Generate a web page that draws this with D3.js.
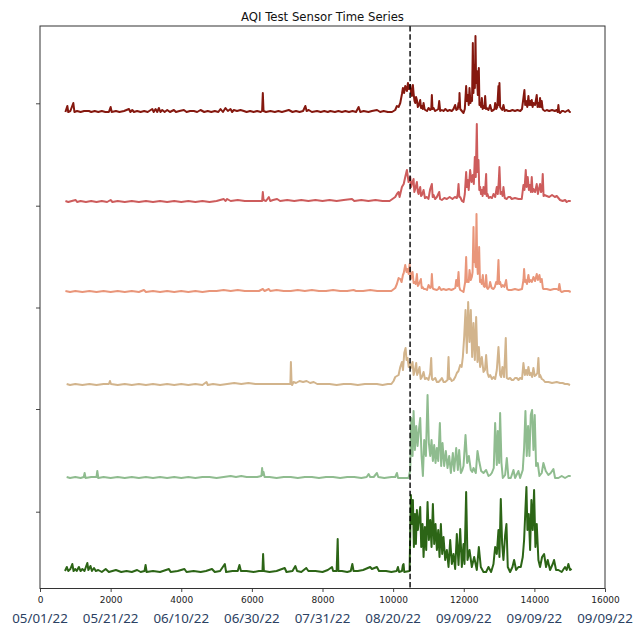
<!DOCTYPE html>
<html>
<head>
<meta charset="utf-8">
<script src="https://cdn.jsdelivr.net/npm/d3@7"></script>
<style>
  body { margin: 0; background: #fff; }
  .x-axis text { font-family: "DejaVu Sans", sans-serif; font-size: 9px; fill: #222; }
  .date-label { font-family: "Noto Sans", sans-serif; font-size: 13.3px; fill: #2b4162; }
  .chart-title { font-family: "DejaVu Sans", sans-serif; font-size: 11.7px; fill: #111; }
</style>
</head>
<body>
<svg id="chart"></svg>
<script>
// x axis ticks (sample index) and the date shown under each one
const xTicks = [0, 2000, 4000, 6000, 8000, 10000, 12000, 14000, 16000];
const dateLabels = ["05/01/22", "05/21/22", "06/10/22", "06/30/22", "07/31/22",
                    "08/20/22", "09/09/22", "09/09/22", "09/09/22"];
// y ticks carry no labels
const yTicks = [59.3, 162, 263.5, 365.3, 467.7];

// sensor sample index where the test starts (dashed line)
const cutoverIndex = 10480;

const seriesColors = ["#85180f", "#cd5c5c", "#e9967a", "#d2b48c", "#8fbc8f", "#2c6516"];
// vertical stacking offset of each sensor trace
const seriesOffsets = [458, 369, 279, 186, 93, -1];

// [sample index, AQI above baseline]
const sensor1 = [[720,1],[774,7],[800,1],[860,2],[944,10],[975,1],[1050,2],[1150,1],[1250,2],[1387,2],[1450,1],[1550,2],[1650,1],[1750,2],[1850,1],[1950,1],[2000,6],[2030,1],[2150,2],[2250,1],[2380,2],[2519,4],[2560,1],[2613,3],[2660,1],[2750,2],[2850,1],[2950,2],[3050,1],[3179,4],[3220,1],[3273,4],[3320,1],[3367,5],[3410,1],[3462,3],[3530,1],[3603,3],[3680,1],[3791,3],[3850,1],[3950,2],[4075,3],[4150,1],[4250,2],[4357,2],[4450,1],[4546,3],[4650,1],[4750,2],[4850,1],[4950,2],[5050,1],[5112,4],[5180,1],[5253,5],[5320,2],[5395,4],[5440,1],[5489,3],[5580,2],[5678,3],[5772,2],[5850,1],[5950,2],[6050,1],[6150,2],[6250,1],[6290,2],[6310,20],[6330,2],[6400,1],[6526,2],[6650,1],[6750,2],[6850,1],[6950,2],[7045,3],[7150,1],[7250,2],[7350,1],[7450,2],[7515,7],[7550,2],[7610,3],[7700,1],[7845,2],[7950,1],[8050,2],[8150,1],[8222,2],[8350,1],[8450,2],[8550,1],[8647,2],[8750,1],[8850,2],[8950,1],[9023,6],[9070,1],[9167,2],[9300,1],[9400,2],[9544,3],[9633,1],[9733,2],[9850,1],[9968,1],[10060,3],[10107,7],[10155,6],[10202,10],[10250,19],[10277,25],[10310,20],[10343,27],[10390,22],[10420,30],[10450,24],[10485,28],[10510,20],[10532,17],[10560,28],[10579,20],[10605,12],[10626,10],[10650,16],[10673,13],[10700,6],[10720,7],[10767,13],[10790,5],[10815,7],[10840,4],[10862,10],[10890,4],[10909,3],[10960,2],[11003,5],[11050,3],[11080,4],[11097,18],[11115,4],[11144,5],[11190,2],[11239,3],[11280,4],[11305,12],[11333,2],[11380,3],[11427,2],[11480,4],[11540,2],[11600,3],[11660,2],[11710,4],[11757,8],[11790,3],[11830,4],[11852,10],[11870,6],[11880,20],[11900,4],[11946,2],[11993,0],[12030,4],[12068,27],[12090,12],[12116,18],[12140,8],[12163,25],[12190,10],[12210,15],[12235,12],[12257,70],[12275,20],[12295,48],[12315,25],[12332,77],[12350,30],[12370,42],[12398,18],[12427,45],[12445,8],[12464,10],[12490,6],[12512,15],[12535,4],[12559,7],[12585,5],[12606,17],[12630,4],[12653,5],[12700,3],[12747,8],[12790,2],[12842,3],[12870,4],[12889,10],[12920,4],[12950,6],[12983,27],[12995,8],[13011,30],[13030,6],[13049,5],[13090,3],[13124,8],[13160,2],[13200,3],[13260,2],[13313,2],[13380,3],[13450,2],[13520,3],[13600,2],[13650,4],[13690,15],[13718,23],[13740,8],[13765,12],[13800,6],[13831,17],[13855,8],[13879,12],[13900,8],[13926,13],[13950,6],[13973,10],[14020,8],[14067,18],[14090,6],[14114,10],[14140,6],[14161,15],[14185,6],[14209,12],[14235,4],[14256,3],[14300,2],[14350,3],[14420,2],[14500,3],[14580,2],[14633,3],[14660,1],[14680,8],[14700,1],[14727,0],[14780,2],[14821,2],[14870,1],[14916,2],[14963,3],[15000,1],[15030,1]];

const sensor2 = [[720,1],[800,0],[900,1],[1010,2],[1050,0],[1150,1],[1300,0],[1450,1],[1600,0],[1750,1],[1900,0],[2000,2],[2050,0],[2200,1],[2400,0],[2600,1],[2800,0],[3000,1],[3200,0],[3400,1],[3600,0],[3800,1],[4000,0],[4200,1],[4400,0],[4600,1],[4800,0],[5000,1],[5100,2],[5205,3],[5250,1],[5300,3],[5400,1],[5600,2],[5800,1],[6000,1],[6200,1],[6290,1],[6310,10],[6330,2],[6400,1],[6480,5],[6520,1],[6600,2],[6714,3],[6800,1],[7000,2],[7200,1],[7400,2],[7600,1],[7800,2],[8000,1],[8200,2],[8400,1],[8600,2],[8835,3],[8900,1],[9100,2],[9300,1],[9500,2],[9700,1],[9900,1],[10060,5],[10107,8],[10155,10],[10183,5],[10249,15],[10300,18],[10343,25],[10390,32],[10437,20],[10485,25],[10510,15],[10532,18],[10579,23],[10600,10],[10626,13],[10673,20],[10700,10],[10720,8],[10767,15],[10790,6],[10815,7],[10862,12],[10900,4],[10956,5],[11000,3],[11050,13],[11097,18],[11120,5],[11144,7],[11190,3],[11239,5],[11305,10],[11330,3],[11380,2],[11450,4],[11522,3],[11600,5],[11680,3],[11750,5],[11804,4],[11830,8],[11852,18],[11875,5],[11899,5],[11950,1],[11993,0],[12030,8],[12068,30],[12090,15],[12116,22],[12140,12],[12181,32],[12220,20],[12257,27],[12285,18],[12314,45],[12340,25],[12370,78],[12390,30],[12417,42],[12440,12],[12464,15],[12490,8],[12512,12],[12535,6],[12559,15],[12600,8],[12634,28],[12650,6],[12672,8],[12710,4],[12747,5],[12800,4],[12842,8],[12890,5],[12936,15],[12965,8],[12990,20],[13011,35],[13040,8],[13078,10],[13100,6],[13124,15],[13160,4],[13219,3],[13260,5],[13313,5],[13360,3],[13450,4],[13550,3],[13643,3],[13690,17],[13720,12],[13756,32],[13780,15],[13812,25],[13845,12],[13879,17],[13900,10],[13926,25],[13950,10],[13973,13],[14020,10],[14067,18],[14100,8],[14161,18],[14190,10],[14215,12],[14237,28],[14260,6],[14284,7],[14350,6],[14420,5],[14500,7],[14580,5],[14633,6],[14680,4],[14727,2],[14800,1],[14870,2],[14916,0],[14963,1],[15030,1]];

const sensor3 = [[720,1],[850,0],[1000,1],[1200,0],[1400,1],[1600,0],[1800,1],[2000,0],[2200,1],[2400,0],[2600,1],[2800,0],[2943,2],[3000,0],[3200,1],[3400,0],[3600,1],[3800,0],[4000,1],[4200,0],[4400,1],[4600,0],[4800,1],[5000,1],[5200,2],[5400,1],[5600,2],[5800,1],[6000,1],[6200,1],[6310,3],[6360,1],[6480,3],[6520,1],[6700,2],[6900,1],[7100,1],[7300,2],[7500,1],[7700,2],[7900,1],[8100,1],[8300,2],[8500,1],[8700,1],[8880,2],[8950,1],[9150,1],[9350,2],[9550,1],[9750,1],[9950,1],[10060,4],[10107,8],[10155,14],[10202,13],[10240,10],[10277,17],[10300,19],[10343,27],[10380,20],[10409,23],[10440,18],[10466,28],[10485,20],[10503,13],[10551,20],[10580,9],[10607,10],[10640,8],[10673,18],[10700,6],[10720,7],[10786,13],[10810,4],[10833,5],[10870,3],[10909,3],[10960,2],[11003,7],[11050,4],[11080,6],[11097,18],[11120,4],[11144,3],[11239,2],[11280,3],[11305,5],[11360,2],[11427,3],[11500,2],[11580,3],[11650,2],[11710,3],[11760,4],[11786,12],[11820,6],[11852,20],[11875,5],[11899,2],[11950,1],[11993,0],[12040,10],[12068,35],[12090,10],[12116,12],[12140,10],[12163,22],[12200,12],[12229,15],[12250,20],[12276,65],[12295,30],[12314,35],[12340,25],[12361,78],[12380,30],[12398,18],[12420,20],[12436,45],[12460,10],[12483,12],[12510,8],[12540,17],[12565,6],[12587,5],[12610,6],[12634,17],[12660,4],[12681,3],[12720,5],[12747,10],[12790,4],[12842,3],[12880,5],[12917,10],[12950,8],[12983,32],[13005,8],[13030,10],[13070,5],[13106,7],[13150,5],[13200,12],[13230,3],[13266,2],[13350,2],[13450,3],[13550,2],[13650,3],[13690,12],[13709,23],[13735,10],[13756,12],[13790,8],[13831,17],[13860,10],[13898,12],[13930,10],[13973,15],[14020,11],[14067,18],[14100,12],[14143,17],[14175,10],[14209,13],[14240,4],[14256,3],[14350,3],[14450,2],[14550,3],[14633,3],[14680,2],[14708,8],[14740,1],[14774,0],[14850,1],[14916,1],[14970,1],[15029,0]];

const sensor4 = [[755,1],[850,0],[1000,1],[1200,0],[1400,1],[1600,0],[1800,1],[1950,1],[1981,4],[2010,1],[2200,0],[2400,1],[2600,0],[2800,1],[3000,0],[3200,1],[3400,0],[3600,1],[3800,0],[4000,1],[4200,0],[4400,1],[4600,0],[4715,3],[4750,0],[4900,1],[5100,0],[5300,1],[5500,2],[5700,1],[5900,2],[6100,1],[6300,1],[6500,1],[6700,1],[6900,1],[7090,1],[7105,23],[7125,1],[7140,0],[7180,3],[7250,2],[7350,4],[7450,3],[7550,4],[7650,2],[7750,3],[7850,1],[8000,1],[8200,1],[8400,0],[8600,1],[8800,1],[9000,0],[9200,1],[9400,1],[9540,1],[9700,0],[9850,1],[9950,1],[10013,4],[10060,8],[10108,9],[10155,10],[10202,18],[10249,23],[10280,15],[10315,32],[10353,37],[10380,25],[10409,27],[10440,18],[10466,22],[10503,17],[10551,23],[10580,10],[10607,13],[10654,22],[10680,10],[10701,12],[10748,18],[10780,6],[10815,8],[10862,13],[10900,6],[10956,7],[11000,5],[11050,12],[11078,27],[11100,6],[11126,5],[11192,7],[11240,3],[11286,3],[11340,5],[11380,7],[11430,3],[11474,3],[11540,5],[11569,28],[11590,6],[11616,7],[11660,4],[11710,5],[11760,8],[11804,12],[11850,14],[11899,20],[11940,18],[11974,28],[12012,48],[12050,75],[12087,32],[12125,83],[12163,43],[12200,75],[12238,28],[12276,62],[12314,25],[12351,68],[12389,23],[12427,38],[12464,18],[12512,28],[12559,13],[12600,15],[12634,30],[12672,12],[12710,8],[12747,10],[12800,6],[12842,8],[12890,6],[12936,15],[12983,38],[13030,10],[13060,8],[13096,18],[13143,8],[13190,47],[13219,7],[13260,6],[13313,7],[13360,5],[13407,5],[13450,7],[13501,7],[13550,5],[13596,7],[13650,6],[13690,22],[13730,10],[13765,15],[13800,10],[13831,18],[13870,10],[13898,12],[13935,8],[13973,17],[14010,9],[14048,10],[14085,12],[14114,27],[14140,8],[14161,10],[14210,6],[14256,5],[14300,3],[14400,3],[14500,2],[14633,3],[14727,2],[14800,2],[14868,1],[14940,1],[15010,0]];

const sensor5 = [[755,1],[850,0],[1000,1],[1150,0],[1240,1],[1264,5],[1290,0],[1450,1],[1600,1],[1623,7],[1650,0],[1800,1],[2000,0],[2200,1],[2400,0],[2600,1],[2800,0],[3000,1],[3200,0],[3400,1],[3600,0],[3800,1],[4000,0],[4200,1],[4400,0],[4600,1],[4800,1],[5000,0],[5200,1],[5400,2],[5550,1],[5700,2],[5850,1],[6000,1],[6150,1],[6270,2],[6290,10],[6310,3],[6330,6],[6360,1],[6500,1],[6700,0],[6900,1],[7100,1],[7300,0],[7500,1],[7700,1],[7900,0],[8100,1],[8300,1],[8500,0],[8700,1],[8900,1],[9100,0],[9250,1],[9306,4],[9350,1],[9450,1],[9542,5],[9580,1],[9750,0],[9950,1],[10060,1],[10108,5],[10140,0],[10300,0],[10437,0],[10485,8],[10513,60],[10551,22],[10579,67],[10617,28],[10654,52],[10692,32],[10729,48],[10767,60],[10805,22],[10843,2],[10880,38],[10928,22],[10975,83],[11012,35],[11050,22],[11088,38],[11126,17],[11163,33],[11201,15],[11239,30],[11277,17],[11324,55],[11361,12],[11399,35],[11446,12],[11493,27],[11540,10],[11588,22],[11635,5],[11691,25],[11729,7],[11786,30],[11833,8],[11870,28],[11918,5],[11960,8],[11993,12],[12050,43],[12097,15],[12144,22],[12200,8],[12240,6],[12276,10],[12342,5],[12389,27],[12436,17],[12493,7],[12559,5],[12634,8],[12700,2],[12750,3],[12794,5],[12850,10],[12889,55],[12936,13],[12964,47],[13002,15],[13030,65],[13068,15],[13106,0],[13172,3],[13219,20],[13266,0],[13332,0],[13407,8],[13454,0],[13548,7],[13596,0],[13671,8],[13709,30],[13747,67],[13784,22],[13822,52],[13860,22],[13898,63],[13935,68],[13973,28],[14010,63],[14048,12],[14095,15],[14143,2],[14209,5],[14256,15],[14322,7],[14397,3],[14463,5],[14539,9],[14586,0],[14680,0],[14774,2],[14868,0],[14963,2],[15029,2]];

const sensor6 = [[708,1],[760,5],[800,1],[860,3],[915,8],[950,1],[1000,3],[1040,1],[1100,5],[1150,1],[1200,3],[1260,1],[1300,5],[1340,9],[1370,2],[1430,6],[1470,1],[1530,4],[1580,1],[1650,2],[1750,0],[1860,3],[1950,0],[2050,1],[2150,2],[2300,0],[2450,1],[2600,0],[2750,2],[2850,0],[2960,1],[2990,7],[3020,0],[3200,1],[3400,0],[3650,3],[3700,0],[3900,1],[4090,3],[4150,0],[4350,1],[4550,0],[4700,1],[4870,3],[4950,0],[5100,1],[5234,8],[5270,0],[5450,1],[5600,1],[5648,7],[5690,1],[5850,1],[6050,0],[6200,1],[6300,1],[6318,18],[6340,1],[6500,0],[6700,1],[6930,4],[6980,0],[7150,1],[7232,6],[7280,1],[7400,0],[7540,4],[7600,1],[7800,1],[8000,0],[8150,2],[8270,5],[8300,1],[8400,1],[8430,33],[8450,1],[8550,1],[8700,0],[8800,1],[8845,8],[8880,1],[9000,1],[9150,2],[9350,5],[9400,3],[9540,5],[9600,1],[9800,1],[9950,0],[10100,1],[10136,5],[10170,0],[10250,1],[10277,7],[10296,8],[10315,0],[10466,1],[10503,77],[10532,48],[10560,72],[10588,25],[10617,58],[10645,28],[10673,62],[10701,42],[10739,55],[10767,65],[10796,25],[10833,48],[10862,15],[10899,45],[10937,22],[10975,70],[11012,32],[11050,52],[11088,25],[11126,68],[11163,28],[11201,48],[11239,22],[11277,42],[11314,15],[11352,48],[11390,18],[11427,35],[11474,12],[11522,22],[11569,5],[11616,32],[11663,8],[11710,18],[11757,3],[11804,38],[11852,7],[11899,43],[11946,5],[11993,28],[12021,8],[12068,80],[12106,12],[12163,22],[12229,5],[12295,15],[12370,2],[12427,25],[12483,5],[12559,0],[12634,0],[12700,5],[12775,0],[12842,8],[12889,25],[12936,18],[12983,42],[13011,15],[13049,73],[13087,28],[13124,12],[13172,37],[13209,48],[13247,5],[13313,0],[13379,5],[13426,12],[13483,2],[13548,5],[13615,5],[13671,15],[13709,32],[13747,63],[13775,85],[13803,42],[13841,58],[13879,22],[13916,72],[13954,42],[13992,82],[14029,25],[14067,48],[14114,12],[14161,5],[14218,15],[14275,18],[14331,5],[14378,12],[14444,2],[14520,8],[14557,12],[14614,2],[14680,2],[14774,0],[14868,5],[14916,2],[14963,8],[15010,2],[15057,3]];

const sensors = [sensor1, sensor2, sensor3, sensor4, sensor5, sensor6];

// ---- layout ----
const width = 636, height = 626;
const margin = { top: 26, right: 31, bottom: 37.5, left: 40 };
const innerW = width - margin.left - margin.right;
const innerH = height - margin.top - margin.bottom;

const svg = d3.select("#chart")
  .attr("width", width)
  .attr("height", height);

const chart = svg.append("g")
  .attr("transform", `translate(${margin.left},${margin.top})`);

const xScale = d3.scaleLinear().domain([0, 16000]).range([0, innerW]);
const yScale = d3.scaleLinear().domain([-17.5, 545]).range([innerH, 0]);

// title
svg.append("text")
  .attr("class", "chart-title")
  .attr("x", margin.left + innerW / 2)
  .attr("y", 20.7)
  .attr("text-anchor", "middle")
  .text("AQI Test Sensor Time Series");

// axes
const xAxis = d3.axisBottom(xScale)
  .tickValues(xTicks)
  .tickFormat(d3.format("d"))
  .tickSize(3.5)
  .tickSizeOuter(0)
  .tickPadding(5);

const yAxis = d3.axisLeft(yScale)
  .tickValues(yTicks)
  .tickFormat("")
  .tickSize(4)
  .tickSizeOuter(0);

chart.append("g")
  .attr("class", "x-axis")
  .attr("transform", `translate(0,${innerH})`)
  .call(xAxis);

chart.append("g")
  .attr("class", "y-axis")
  .call(yAxis);

chart.selectAll(".x-axis .tick line, .y-axis .tick line")
  .attr("stroke", "#333")
  .attr("stroke-width", 0.9);
chart.selectAll(".x-axis .domain, .y-axis .domain").remove();

// date row under the index labels
chart.append("g")
  .selectAll("text")
  .data(xTicks)
  .join("text")
  .attr("class", "date-label")
  .attr("x", d => xScale(d))
  .attr("y", 623 - margin.top)
  .attr("text-anchor", "middle")
  .text((d, i) => dateLabels[i]);

// traces
const line = d3.line()
  .x(d => xScale(d[0]));

chart.selectAll(".trace")
  .data(sensors)
  .join("path")
  .attr("class", "trace")
  .attr("fill", "none")
  .attr("stroke", (d, i) => seriesColors[i])
  .attr("stroke-width", 2)
  .attr("stroke-linejoin", "round")
  .attr("d", (d, i) => line.y(p => yScale(p[1] + seriesOffsets[i]))(d));

// test start marker
chart.append("line")
  .attr("x1", xScale(cutoverIndex))
  .attr("x2", xScale(cutoverIndex))
  .attr("y1", 0)
  .attr("y2", innerH)
  .attr("stroke", "#000")
  .attr("stroke-width", 1.4)
  .attr("stroke-dasharray", "5.5,2.8");

// frame
chart.append("rect")
  .attr("width", innerW)
  .attr("height", innerH)
  .attr("fill", "none")
  .attr("stroke", "#333")
  .attr("stroke-width", 1);
</script>
</body>
</html>
